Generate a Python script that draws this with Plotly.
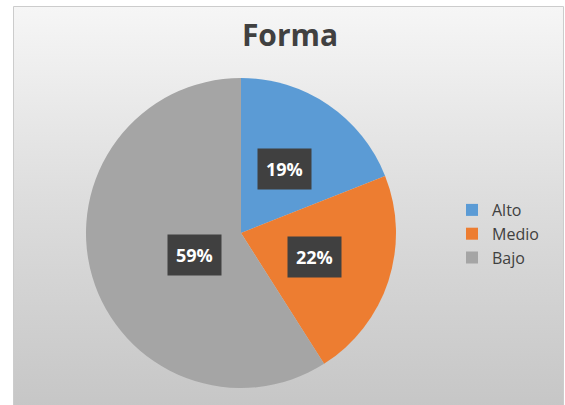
import math
import plotly.graph_objects as go

TITLE = "Forma"
LABELS = ["Alto", "Medio", "Bajo"]
VALUES = [19, 22, 59]
COLORS = ["#5b9bd5", "#ed7d31", "#a5a5a5"]

W, H = 565, 405

# Chart frame (Excel-style box with soft grey gradient)
FRAME = dict(x0=13.5 / W, x1=563.5 / W, y0=-0.01, y1=1 - 6.5 / H)
gradient_svg = (
    "data:image/svg+xml;utf8,"
    "<svg xmlns='http://www.w3.org/2000/svg' width='100' height='100' preserveAspectRatio='none'>"
    "<defs><linearGradient id='g' x1='0' y1='0' x2='0' y2='1'>"
    "<stop offset='0' stop-color='%23f6f6f6'/>"
    "<stop offset='0.5' stop-color='%23dcdcdc'/>"
    "<stop offset='1' stop-color='%23c6c6c6'/>"
    "</linearGradient></defs>"
    "<rect width='100' height='100' fill='url(%23g)'/></svg>"
)

# Pie geometry in paper coordinates
PIE_X = [86 / W, 396 / W]
PIE_Y = [1 - 388 / H, 1 - 78 / H]

fig = go.Figure(go.Pie(
    labels=LABELS,
    values=VALUES,
    sort=False,
    direction="clockwise",
    rotation=0,
    marker=dict(colors=COLORS, line=dict(width=0)),
    textinfo="none",
    hoverinfo="label+percent",
    domain=dict(x=PIE_X, y=PIE_Y),
))

# Percentage labels in dark boxes, placed at half radius of each slice's mid angle
cx = (PIE_X[0] + PIE_X[1]) / 2 * W
cy = (1 - (PIE_Y[0] + PIE_Y[1]) / 2) * H
r = (PIE_X[1] - PIE_X[0]) / 2 * W
total = sum(VALUES)
cum = 0
for v in VALUES:
    mid = (cum + v / 2) / total * 2 * math.pi
    cum += v
    px = cx + 0.5 * r * math.sin(mid)
    py = cy - 0.5 * r * math.cos(mid)
    fig.add_annotation(
        x=px / W, y=1 - py / H, xref="paper", yref="paper",
        text=f"<b>{round(v / total * 100)}%</b>",
        showarrow=False,
        font=dict(family="Open Sans, sans-serif", size=18, color="white"),
        bgcolor="#404040",
        borderpad=8,
    )

fig.update_layout(
    width=W, height=H,
    margin=dict(l=0, r=0, t=0, b=0),
    paper_bgcolor="white",
    title=dict(
        text=f"<b>{TITLE}</b>",
        x=290 / W, xanchor="center",
        y=1 - 35 / H, yanchor="middle",
        font=dict(family="Open Sans, sans-serif", size=30, color="#404040"),
    ),
    legend=dict(
        x=452 / W, xanchor="left",
        y=1 - 234 / H, yanchor="middle",
        font=dict(family="Open Sans, sans-serif", size=16, color="#404040"),
        bgcolor="rgba(0,0,0,0)",
    ),
    images=[dict(
        source=gradient_svg, xref="paper", yref="paper",
        x=FRAME["x0"], y=FRAME["y1"],
        sizex=FRAME["x1"] - FRAME["x0"], sizey=FRAME["y1"] - FRAME["y0"],
        sizing="stretch", layer="below", xanchor="left", yanchor="top",
    )],
    shapes=[dict(
        type="rect", xref="paper", yref="paper", layer="above",
        x0=FRAME["x0"], x1=FRAME["x1"], y0=FRAME["y0"], y1=FRAME["y1"],
        line=dict(color="#cccccc", width=1),
        fillcolor="rgba(0,0,0,0)",
    )],
)

# drop the default page margin so the figure sits flush in the window
fig.write_html(
    "out.html",
    config={"displayModeBar": False},
    post_script="document.body.style.margin='0';document.body.style.overflow='hidden';",
)
